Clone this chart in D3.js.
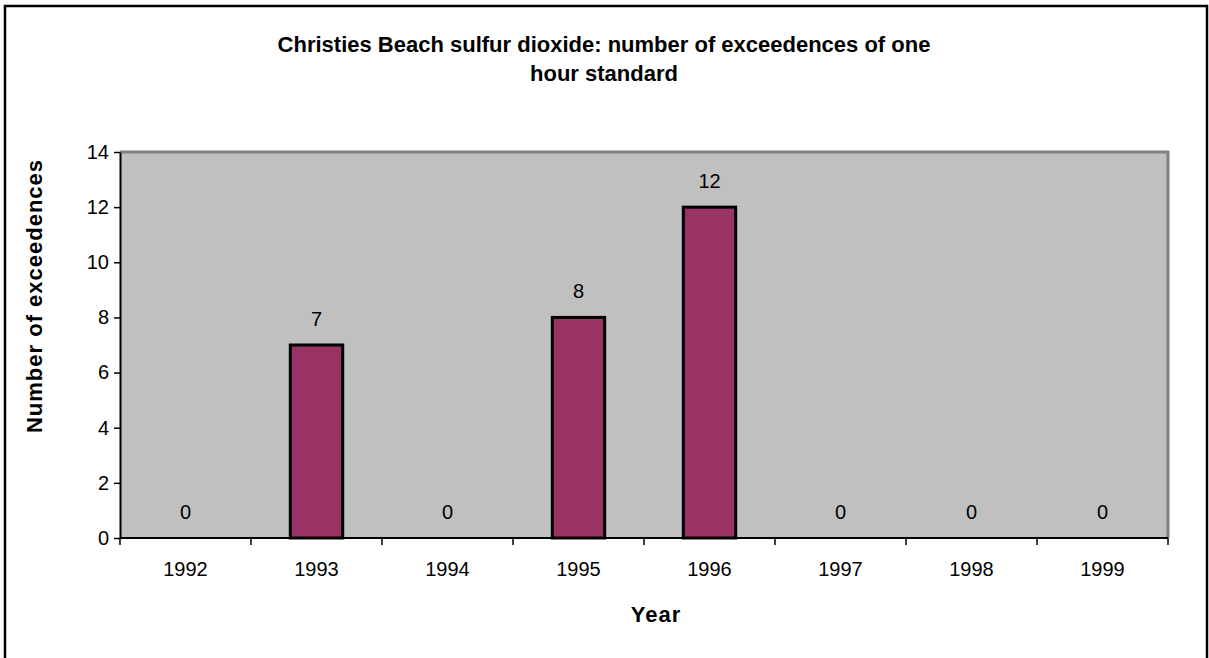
<!DOCTYPE html>
<meta charset="utf-8">
<script src="https://d3js.org/d3.v7.min.js"></script>
<style>
  body { margin: 0; background: #fff; }
  text { font-family: "Liberation Sans", Arial, sans-serif; }
</style>
<div id="chart"></div>
<script>

// data
const years = ["1992", "1993", "1994", "1995", "1996", "1997", "1998", "1999"];
const exceedences = [0, 7, 0, 8, 12, 0, 0, 0];
const yTicks = [0, 2, 4, 6, 8, 10, 12, 14];

const W = 1209, H = 658;
const plot = {left: 120, right: 1168, top: 152, bottom: 538};

const svg = d3.select("#chart")
  .append("svg")
    .attr("width", W)
    .attr("height", H);

// outer chart border (bottom runs off the picture)
svg.append("path")
  .attr("d", `M5,${H + 5} L5,6 L1207,6 L1207,${H + 5}`)
  .attr("fill", "none")
  .attr("stroke", "#000")
  .attr("stroke-width", 2.5);

// title
const title = svg.append("text")
  .attr("text-anchor", "middle")
  .attr("font-weight", "bold")
  .attr("font-size", 22);
title.append("tspan").attr("x", 604).attr("y", 52)
  .text("Christies Beach sulfur dioxide: number of exceedences of one");
title.append("tspan").attr("x", 604).attr("y", 81)
  .text("hour standard");

const x = d3.scaleBand()
  .domain(years)
  .range([plot.left, plot.right])
  .paddingInner(0)
  .paddingOuter(0);

const y = d3.scaleLinear()
  .domain([0, 14])
  .range([plot.bottom, plot.top]);

// plot area
svg.append("rect")
  .attr("x", plot.left)
  .attr("y", plot.top)
  .attr("width", plot.right - plot.left)
  .attr("height", plot.bottom - plot.top)
  .attr("fill", "#c0c0c0");
svg.append("path")
  .attr("d", `M${plot.left},${plot.top} L${plot.right},${plot.top} L${plot.right},${plot.bottom}`)
  .attr("fill", "none")
  .attr("stroke", "#808080")
  .attr("stroke-width", 3);

// bars
const barW = x.bandwidth() / 2.5;
svg.append("g")
  .selectAll("rect")
  .data(years.map((d, i) => ({year: d, v: exceedences[i]})).filter(d => d.v > 0))
  .join("rect")
    .attr("x", d => x(d.year) + (x.bandwidth() - barW) / 2)
    .attr("y", d => y(d.v))
    .attr("width", barW)
    .attr("height", d => y(0) - y(d.v))
    .attr("fill", "#993366")
    .attr("stroke", "#000")
    .attr("stroke-width", 3);

// value labels
svg.append("g")
  .selectAll("text")
  .data(years.map((d, i) => ({year: d, v: exceedences[i]})))
  .join("text")
    .attr("x", d => x(d.year) + x.bandwidth() / 2)
    .attr("y", d => y(d.v) - 19)
    .attr("text-anchor", "middle")
    .attr("font-size", 20)
    .text(d => d.v);

// y axis
const yAxis = svg.append("g")
  .attr("transform", `translate(${plot.left},0)`)
  .call(d3.axisLeft(y).tickValues(yTicks).tickSize(6).tickSizeOuter(0).tickPadding(5));
yAxis.select(".domain").attr("stroke", "#000").attr("stroke-width", 2);
yAxis.selectAll(".tick line").attr("stroke", "#000").attr("stroke-width", 1.5);
yAxis.selectAll(".tick text").attr("font-size", 20).attr("font-family", "Liberation Sans, Arial, sans-serif").attr("fill", "#000");

// x axis: ticks sit on the category boundaries
const xAxis = svg.append("g")
  .attr("transform", `translate(0,${plot.bottom})`);
xAxis.append("line")
  .attr("x1", plot.left).attr("x2", plot.right)
  .attr("stroke", "#000").attr("stroke-width", 2);
xAxis.selectAll(".bt")
  .data(years.concat(["end"]))
  .join("line")
    .attr("x1", (d, i) => plot.left + i * x.bandwidth())
    .attr("x2", (d, i) => plot.left + i * x.bandwidth())
    .attr("y1", 0).attr("y2", 7)
    .attr("stroke", "#000").attr("stroke-width", 1.5);
xAxis.selectAll(".lbl")
  .data(years)
  .join("text")
    .attr("x", d => x(d) + x.bandwidth() / 2)
    .attr("y", 38)
    .attr("text-anchor", "middle")
    .attr("font-size", 20)
    .text(d => d);

// axis titles
svg.append("text")
  .attr("x", 656)
  .attr("y", 622)
  .attr("text-anchor", "middle")
  .attr("font-weight", "bold")
  .attr("font-size", 22)
  .attr("letter-spacing", 1)
  .text("Year");

svg.append("text")
  .attr("transform", "translate(42,296) rotate(-90)")
  .attr("text-anchor", "middle")
  .attr("font-weight", "bold")
  .attr("font-size", 22)
  .attr("letter-spacing", 1)
  .text("Number of exceedences");

</script>
